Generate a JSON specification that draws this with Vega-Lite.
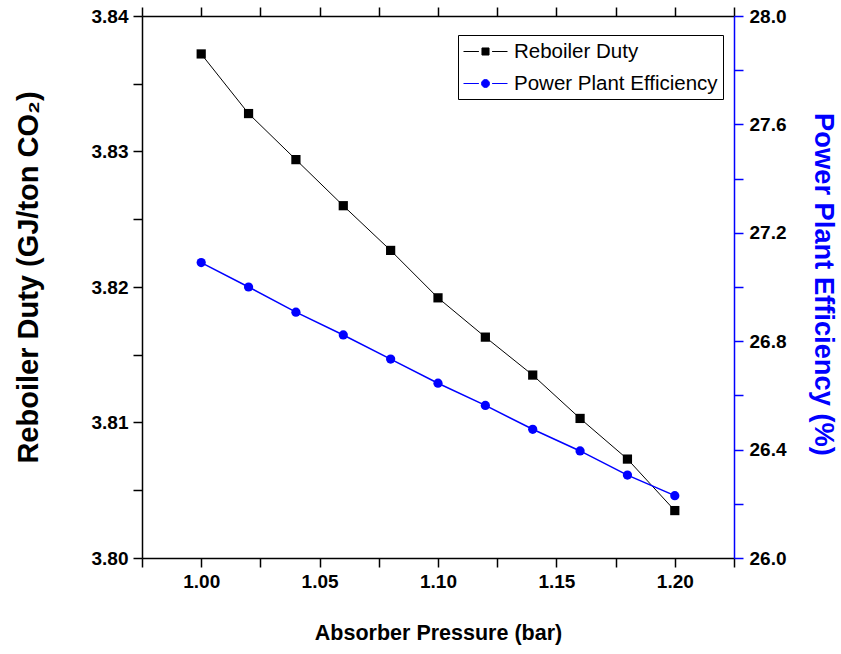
{
  "$schema": "https://vega.github.io/schema/vega-lite/v6.json",
  "width": 592,
  "height": 542,
  "autosize": {"type": "none"},
  "padding": {"left": 142, "top": 16, "right": 107, "bottom": 96},
  "background": "white",
  "config": {
    "view": {"stroke": null},
    "font": "Liberation Sans",
    "axis": {"grid": false, "labelOverlap": false, "labelFlush": false, "labelFont": "Liberation Sans", "labelFontSize": 19, "labelFontWeight": "bold", "labelColor": "black", "titleFont": "Liberation Sans", "titleFontWeight": "bold", "titleFontSize": 21.5, "titleColor": "black", "domainColor": "black", "domainWidth": 1.5, "tickColor": "black", "tickWidth": 1.5, "tickSize": 9},
    "legend": {
      "orient": "none",
      "legendX": 316,
      "legendY": 19,
      "direction": "vertical",
      "strokeColor": "black",
      "fillColor": "white",
      "padding": 5,
      "rowPadding": 10,
      "labelFont": "Liberation Sans",
      "labelFontSize": 20.5,
      "labelColor": "black",
      "labelLimit": 400,
      "labelOffset": 28,
      "symbolSize": 484,
      "symbolOffset": 0,
      "symbolStrokeWidth": 1,
      "symbolOpacity": 1
    }
  },
  "datasets": {
    "rd": [
      {"p": 1.00, "v": 3.8372},
      {"p": 1.02, "v": 3.8328},
      {"p": 1.04, "v": 3.8294},
      {"p": 1.06, "v": 3.8260},
      {"p": 1.08, "v": 3.8227},
      {"p": 1.10, "v": 3.8192},
      {"p": 1.12, "v": 3.8163},
      {"p": 1.14, "v": 3.8135},
      {"p": 1.16, "v": 3.8103},
      {"p": 1.18, "v": 3.8073},
      {"p": 1.20, "v": 3.8035}
    ],
    "eff": [
      {"p": 1.00, "e": 27.090},
      {"p": 1.02, "e": 27.000},
      {"p": 1.04, "e": 26.907},
      {"p": 1.06, "e": 26.823},
      {"p": 1.08, "e": 26.734},
      {"p": 1.10, "e": 26.645},
      {"p": 1.12, "e": 26.563},
      {"p": 1.14, "e": 26.475},
      {"p": 1.16, "e": 26.395},
      {"p": 1.18, "e": 26.306},
      {"p": 1.20, "e": 26.230}
    ],
    "series": [
      {"s": "Reboiler Duty"},
      {"s": "Power Plant Efficiency"}
    ]
  },
  "layer": [
    {
      "data": {"name": "rd"},
      "encoding": {
        "x": {
          "field": "p", "type": "quantitative",
          "scale": {"domain": [0.975, 1.225], "nice": false, "zero": false},
          "axis": {
            "orient": "bottom",
            "values": [0.975, 1.0, 1.025, 1.05, 1.075, 1.1, 1.125, 1.15, 1.175, 1.2, 1.225],
            "labelExpr": "abs(datum.value*20-round(datum.value*20))<0.001 ? format(datum.value,'.2f') : ''",
            "labelPadding": 5,
            "title": "Absorber Pressure (bar)",
            "titleY": 75,
            "titleBaseline": "middle",
            "encode": {"ticks": {"update": {"y2": {"signal": "abs(datum.value*20-round(datum.value*20))<0.001 ? 9 : 5"}}}}
          }
        },
        "y": {
          "field": "v", "type": "quantitative",
          "scale": {"domain": [3.80, 3.84], "nice": false, "zero": false},
          "axis": {
            "orient": "left",
            "values": [3.8, 3.805, 3.81, 3.815, 3.82, 3.825, 3.83, 3.835, 3.84],
            "labelExpr": "abs(datum.value*100-round(datum.value*100))<0.01 ? format(datum.value,'.2f') : ''",
            "labelPadding": 5,
            "title": "Reboiler Duty (GJ/ton CO₂)",
            "titleFontSize": 29,
            "titleX": -114,
            "titleY": 261,
            "titleBaseline": "middle",
            "encode": {"ticks": {"update": {"x2": {"signal": "abs(datum.value*100-round(datum.value*100))<0.01 ? -9 : -5"}}}}
          }
        }
      },
      "layer": [
        {"mark": {"type": "line", "color": "black", "strokeWidth": 1}},
        {"mark": {"type": "point", "filled": true, "opacity": 1, "size": 85, "shape": "square", "color": "black"}}
      ]
    },
    {
      "data": {"name": "eff"},
      "encoding": {
        "x": {
          "field": "p", "type": "quantitative",
          "scale": {"domain": [0.975, 1.225], "nice": false, "zero": false},
          "axis": {
            "orient": "top",
            "values": [0.975, 1.0, 1.025, 1.05, 1.075, 1.1, 1.125, 1.15, 1.175, 1.2, 1.225],
            "labels": false,
            "title": null,
            "encode": {"ticks": {"update": {"y2": {"signal": "abs(datum.value*20-round(datum.value*20))<0.001 ? 9 : 5"}}}}
          }
        },
        "y": {
          "field": "e", "type": "quantitative",
          "scale": {"domain": [26.0, 28.0], "nice": false, "zero": false},
          "axis": {
            "orient": "right",
            "values": [26.0, 26.2, 26.4, 26.6, 26.8, 27.0, 27.2, 27.4, 27.6, 27.8, 28.0],
            "labelExpr": "abs(datum.value/0.4-round(datum.value/0.4))<0.01 ? format(datum.value,'.1f') : ''",
            "labelPadding": 6,
            "domainColor": "blue",
            "tickColor": "blue",
            "title": "Power Plant Efficiency (%)",
            "titleFontSize": 27.3,
            "titleColor": "blue",
            "titleX": 88,
            "titleY": 268,
            "titleBaseline": "middle",
            "encode": {"ticks": {"update": {"x2": {"signal": "abs(datum.value/0.4-round(datum.value/0.4))<0.01 ? 9 : 5"}}}}
          }
        }
      },
      "layer": [
        {"mark": {"type": "line", "color": "blue", "strokeWidth": 1.5}},
        {"mark": {"type": "point", "filled": true, "opacity": 1, "size": 85, "shape": "circle", "color": "blue"}}
      ]
    },
    {
      "data": {"name": "series"},
      "transform": [{"filter": "false"}],
      "mark": {"type": "point", "filled": true, "opacity": 1, "strokeWidth": 1},
      "encoding": {
        "fill": {
          "field": "s", "type": "nominal",
          "scale": {"domain": ["Reboiler Duty", "Power Plant Efficiency"], "range": ["black", "blue"]},
          "legend": {"title": null}
        },
        "stroke": {
          "field": "s", "type": "nominal",
          "scale": {"domain": ["Reboiler Duty", "Power Plant Efficiency"], "range": ["black", "blue"]},
          "legend": {"title": null}
        },
        "shape": {
          "field": "s", "type": "nominal",
          "scale": {"domain": ["Reboiler Duty", "Power Plant Efficiency"], "range": ["M-1,0H0.4M0.68,-0.32H1.32V0.32H0.68ZM1.6,0H3", "M-1,0H0.4M1.36,0A0.36,0.36 0 1,1 0.64,0A0.36,0.36 0 1,1 1.36,0ZM1.6,0H3"]},
          "legend": {"title": null}
        }
      }
    }
  ],
  "resolve": {"scale": {"y": "independent"}, "axis": {"x": "independent", "y": "independent"}}
}
